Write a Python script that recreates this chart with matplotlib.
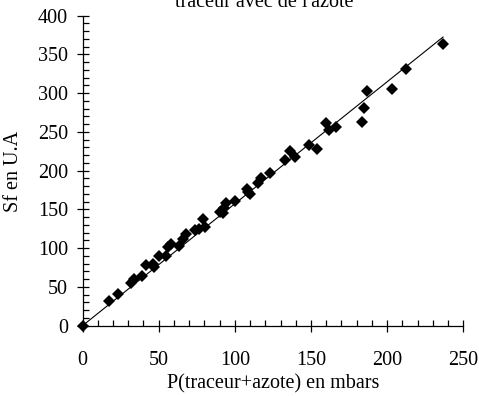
import matplotlib
matplotlib.use("Agg")
import matplotlib.pyplot as plt
from matplotlib.ticker import MultipleLocator

# Data
pressure_mbar = [0, 17.4, 23.5, 32.0, 33.5, 38.9, 41.6, 46.5, 47.0, 49.9, 55.0,
                 56.4, 58.0, 63.6, 66.0, 67.7, 73.7, 76.7, 78.9, 80.6, 90.3,
                 92.0, 92.8, 94.2, 100.1, 107.7, 108.8, 110.2, 115.4, 117.1,
                 123.2, 133.2, 136.2, 139.5, 148.8, 153.7, 159.8, 162.0, 166.6,
                 183.2, 184.9, 187.1, 203.5, 212.7, 236.7]
signal_ua = [0, 32.0, 41.5, 54.7, 60.0, 64.5, 78.0, 79.5, 76.0, 90.0, 90.5,
             102.0, 106.0, 102.6, 112.5, 118.0, 123.5, 125.0, 137.5, 127.0, 146.5,
             145.0, 151.5, 158.0, 160.5, 176.5, 173.0, 170.5, 184.0, 190.5,
             197.0, 214.0, 226.0, 217.7, 233.0, 227.6, 262.0, 253.0, 256.8,
             263.2, 281.0, 303.0, 306.0, 331.0, 363.5]
trend_x = [0, 236.7]
trend_y = [0, 372.5]

x_ticks = [0, 50, 100, 150, 200, 250]
y_ticks = [0, 50, 100, 150, 200, 250, 300, 350, 400]

title_text = "traceur avec de l'azote"
x_label = "P(traceur+azote) en mbars"
y_label = "Sf en U.A"

plt.rcParams['font.family'] = ['Liberation Serif', 'DejaVu Serif']
FS = 14.5

fig = plt.figure(figsize=(4.79, 3.96), dpi=100)
W, H = 479, 396
left, right, top, bottom = 82.5, 463.3, 15.7, 325.7
ax = fig.add_axes([left / W, 1 - bottom / H, (right - left) / W, (bottom - top) / H])

ax.plot(trend_x, trend_y, color='black', linewidth=0.8, zorder=2)
ax.plot(pressure_mbar, signal_ua, linestyle='none', marker='D', markersize=5.8,
        color='black', markeredgewidth=0, zorder=3, clip_on=False)

ax.set_xlim(0, 250)
ax.set_ylim(0, 400)
ax.set_xticks(x_ticks)
ax.set_yticks(y_ticks)
ax.xaxis.set_minor_locator(MultipleLocator(10))
ax.yaxis.set_minor_locator(MultipleLocator(10))

for s in ['top', 'right']:
    ax.spines[s].set_visible(False)
for s in ['left', 'bottom']:
    ax.spines[s].set_linewidth(0.9)

ax.tick_params(which='major', direction='inout', length=8.6, width=0.9,
               labelsize=FS, colors='black')
ax.tick_params(axis='x', which='major', pad=14)
ax.tick_params(axis='y', which='major', pad=6)
ax.tick_params(which='minor', direction='in', length=4, width=0.9)

fig.text(263.8 / W, 1 - 7.3 / H, title_text, ha='center', va='baseline', fontsize=FS)
fig.text(273 / W, 1 - 388.3 / H, x_label, ha='center', va='baseline', fontsize=FS)
fig.text(14 / W, 1 - 171.7 / H, y_label, ha='center', va='center', rotation=90, fontsize=FS)

fig.savefig("out.png", dpi=100)
